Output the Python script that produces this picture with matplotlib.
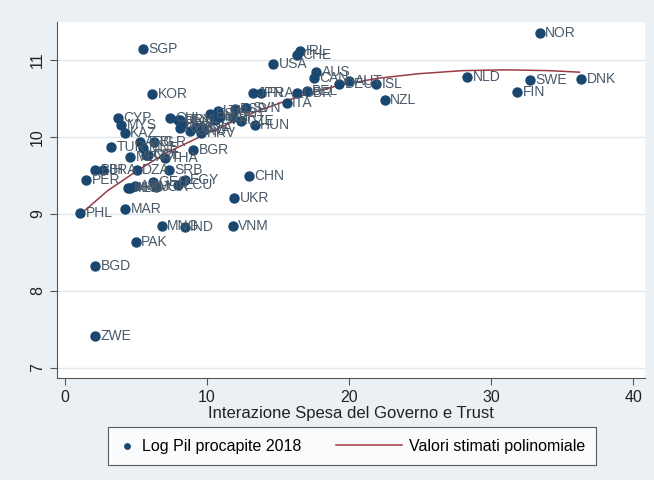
import matplotlib.pyplot as plt
from matplotlib.legend_handler import HandlerLine2D

plt.rcParams['font.family'] = ['Liberation Sans', 'DejaVu Sans']

# paesi, interazione spesa*trust, log pil procapite 2018
codes = ['NOR', 'SGP', 'KOR', 'NLD', 'SWE', 'DNK', 'FIN', 'NZL', 'ISL', 'AUT',
         'DEU', 'AUS', 'CAN', 'CHE', 'IRL', 'USA', 'BEL', 'GBR', 'JPN', 'FRA',
         'ITA', 'HUN', 'SVN', 'ESP', 'CZE', 'PRT', 'MLT', 'EST', 'SVK', 'LTU',
         'LVA', 'HRV', 'POL', 'GRC', 'RUS', 'ROU', 'CHL', 'URY', 'CYP', 'MYS',
         'KAZ', 'TUR', 'ARG', 'MNE', 'BLR', 'MEX', 'COL', 'THA', 'BGR', 'BIH',
         'BRA', 'PER', 'DZA', 'SRB', 'ALB', 'ARM', 'GEO', 'JOR', 'ECU', 'EGY',
         'PHL', 'MAR', 'UKR', 'CHN', 'MNG', 'IND', 'VNM', 'PAK', 'BGD', 'ZWE',
         'IDN', 'MKD', 'CRI']
spesa_trust = [33.4, 5.5, 6.16, 28.3, 32.7, 36.3, 31.8, 22.5, 21.9, 20.0,
               19.3, 17.7, 17.5, 16.3, 16.56, 14.64, 17.0, 16.3, 13.2, 13.8,
               15.6, 13.35, 12.77, 11.95, 12.4, 11.83, 10.9, 10.2, 10.54, 10.75,
               9.72, 9.6, 9.25, 8.78, 8.08, 8.08, 7.38, 7.96, 3.75, 3.98,
               4.2, 3.28, 5.27, 5.5, 6.3, 4.57, 5.86, 7.03, 9.02, 2.11,
               2.7, 1.48, 5.04, 7.33, 4.57, 4.92, 6.2, 6.44, 7.96, 8.43,
               1.1, 4.22, 11.9, 12.95, 6.8, 8.43, 11.8, 4.99, 2.11, 2.11,
               8.3, 4.45, 5.74]
log_pil = [11.35, 11.14, 10.55, 10.78, 10.74, 10.75, 10.58, 10.48, 10.68, 10.72,
           10.69, 10.84, 10.76, 11.06, 11.11, 10.94, 10.59, 10.57, 10.57, 10.57,
           10.44, 10.16, 10.37, 10.36, 10.2, 10.26, 10.26, 10.3, 10.22, 10.33,
           10.11, 10.05, 10.13, 10.07, 10.11, 10.22, 10.24, 10.22, 10.24, 10.16,
           10.05, 9.87, 9.93, 9.85, 9.93, 9.74, 9.77, 9.72, 9.83, 9.57,
           9.57, 9.44, 9.57, 9.57, 9.33, 9.36, 9.42, 9.35, 9.38, 9.44,
           9.01, 9.06, 9.2, 9.49, 8.84, 8.83, 8.84, 8.63, 8.32, 7.41,
           10.18, 9.33, 9.77]

# curva dei valori stimati
fit_x = [1.0, 3.0, 5.0, 7.0, 9.5, 11.5, 13.35, 15.6, 17.5, 19.3, 22.0, 24.9,
         28.0, 31.0, 34.0, 36.2]
fit_y = [8.98, 9.3, 9.55, 9.78, 10.0, 10.17, 10.32, 10.47, 10.58, 10.67, 10.76,
         10.82, 10.86, 10.87, 10.86, 10.84]


class LongLine(HandlerLine2D):
    # linea della legenda piu lunga, estesa verso sinistra
    def create_artists(self, legend, orig_handle, xdescent, ydescent,
                       width, height, fontsize, trans):
        extra = 3.1 * fontsize
        return super().create_artists(legend, orig_handle, xdescent + extra,
                                      ydescent, width + extra, height,
                                      fontsize, trans)


navy = '#1a476f'
fig = plt.figure(figsize=(6.54, 4.8), dpi=100, facecolor='#eaf0f3')
ax1 = fig.add_axes([0.087, 0.2125, 0.899, 0.7415])
ax1.set_facecolor('white')

ax1.scatter(spesa_trust, log_pil, s=42, color=navy, zorder=3,
            label='Log Pil procapite 2018')
for c, xv, yv in zip(codes, spesa_trust, log_pil):
    ax1.annotate(c, (xv, yv), xytext=(4, 0), textcoords='offset points',
                 va='center', ha='left', fontsize=10, color='#4a5968', zorder=4)
line, = ax1.plot(fit_x, fit_y, color='#9b3b45', lw=1.1, zorder=2,
                 label='Valori stimati polinomiale')

ax1.set_xlim(-0.56, 40.8)
ax1.set_ylim(6.87, 11.49)
ax1.set_xticks([0, 10, 20, 30, 40])
ax1.set_yticks([7, 8, 9, 10, 11])
ax1.set_yticklabels(['7', '8', '9', '10', '11'], rotation=90, va='center')
ax1.tick_params(axis='both', labelsize=11.5, length=5, color='#555555',
                labelcolor='#222222')
ax1.grid(axis='y', color='#dfe7ea', lw=1)
ax1.set_axisbelow(True)
for s in ['top', 'right']:
    ax1.spines[s].set_visible(False)
for s in ['left', 'bottom']:
    ax1.spines[s].set_color('#555555')
ax1.set_xlabel('Interazione Spesa del Governo e Trust', fontsize=12,
               color='#222222', labelpad=1)

leg = fig.legend(loc='center', bbox_to_anchor=(352 / 654, 1 - 446 / 480),
                 ncol=2, fontsize=11.5, frameon=True, fancybox=False,
                 edgecolor='#333333', handlelength=1.0, handletextpad=0.45,
                 columnspacing=5.3, borderpad=0.7, markerscale=0.6,
                 handler_map={line: LongLine()})
leg.get_frame().set_linewidth(0.8)

plt.savefig('out.png', dpi=100, facecolor=fig.get_facecolor())
